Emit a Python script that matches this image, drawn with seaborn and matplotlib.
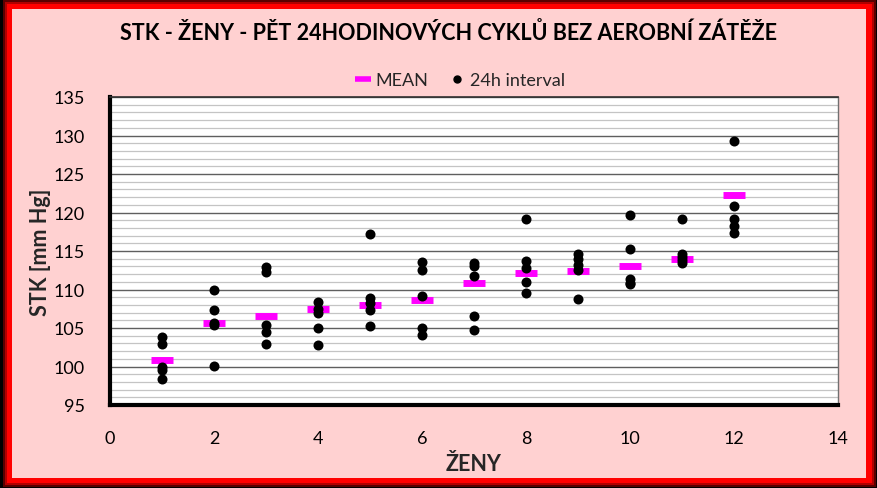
import numpy as np
import pandas as pd
import matplotlib
matplotlib.use("Agg")
import matplotlib.pyplot as plt
from matplotlib.patches import Rectangle
from matplotlib.lines import Line2D
import seaborn as sns

# ---------------- data ----------------
women = [1, 2, 3, 4, 5, 6, 7, 8, 9, 10, 11, 12]
w1 = [103.8, 102.9, 100.0, 99.6, 98.4]
w2 = [109.9, 107.3, 105.7, 105.4, 100.1]
w3 = [112.9, 112.3, 105.4, 104.5, 102.9]
w4 = [108.4, 107.5, 107.0, 105.0, 102.8]
w5 = [117.2, 108.9, 108.2, 107.3, 105.3]
w6 = [113.6, 112.5, 109.1, 105.0, 104.1]
w7 = [113.4, 113.1, 111.8, 106.5, 104.7]
w8 = [119.2, 113.7, 112.8, 111.0, 109.6]
w9 = [114.6, 114.0, 113.2, 112.5, 108.8]
w10 = [119.7, 115.2, 111.4, 110.9, 110.7]
w11 = [119.2, 114.6, 114.2, 113.8, 113.5]
w12 = [129.3, 120.8, 119.2, 118.2, 117.3]
means = [100.8, 105.7, 106.6, 107.5, 108.0, 108.7, 110.8, 112.1, 112.4, 113.1, 113.9, 122.3]
x_ticks = [0, 2, 4, 6, 8, 10, 12, 14]
y_ticks = [95, 100, 105, 110, 115, 120, 125, 130, 135]

title = "STK - ŽENY - PĚT 24HODINOVÝCH CYKLŮ BEZ AEROBNÍ ZÁTĚŽE"
xlabel = "ŽENY"
ylabel = "STK [mm Hg]"

per_woman = [w1, w2, w3, w4, w5, w6, w7, w8, w9, w10, w11, w12]
pts = pd.DataFrame({
    "zena": np.repeat(women, [len(v) for v in per_woman]),
    "stk": np.concatenate(per_woman),
})
mean_df = pd.DataFrame({"zena": women, "stk": means})

# ---------------- figure ----------------
sns.set_theme(style="white")
plt.rcParams["font.family"] = ["Lato", "DejaVu Sans"]

W, H = 878, 489
fig = plt.figure(figsize=(W / 100, H / 100), dpi=100, facecolor="black")

def px_rect(x0, y0, x1, y1, **kw):
    r = Rectangle((x0 / W, 1 - y1 / H), (x1 - x0) / W, (y1 - y0) / H,
                  transform=fig.transFigure, **kw)
    fig.patches.append(r)

# glow / red frame / pink chart area
px_rect(3, 1, 876, 488, facecolor="#5a0000", edgecolor="none", zorder=-10)
px_rect(5, 3, 874, 486, facecolor="#b00000", edgecolor="none", zorder=-9)
px_rect(7, 5, 872, 484, facecolor="#ff0000", edgecolor="none", zorder=-8)
px_rect(12, 10, 866, 479, facecolor="#ffd1d1", edgecolor="none", zorder=-7)

ax = fig.add_axes([110 / W, 1 - 406 / H, (838 - 110) / W, (406 - 98) / H])
ax.set_zorder(5)
ax.set_facecolor("white")

sns.scatterplot(data=mean_df, x="zena", y="stk", ax=ax, marker="_",
                s=260, linewidth=5, color="#ff00ff", zorder=3, legend=False)
sns.scatterplot(data=pts, x="zena", y="stk", ax=ax, marker="o",
                s=52, color="black", edgecolor="black", linewidth=0,
                zorder=4, legend=False)

ax.set_xlim(0, 14)
ax.set_ylim(95, 135)
ax.set_xticks(x_ticks)
ax.set_yticks(y_ticks)
ax.set_yticks(np.arange(95, 136, 1), minor=True)
ax.grid(which="minor", axis="y", color="#c4c4c4", linewidth=0.9, zorder=0)
ax.grid(which="major", axis="y", color="#5f5f5f", linewidth=1.0, zorder=1)
ax.grid(which="major", axis="x", visible=False)
ax.set_axisbelow(True)
ax.tick_params(axis="both", which="both", length=0, labelsize=13,
               labelcolor="black")
ax.tick_params(axis="x", pad=18)
ax.tick_params(axis="y", pad=18)

for side in ["left", "bottom"]:
    ax.spines[side].set_color("black")
    ax.spines[side].set_linewidth(3)
ax.spines["top"].set_color("#303030")
ax.spines["top"].set_linewidth(1.2)
ax.spines["right"].set_color("#707070")
ax.spines["right"].set_linewidth(1.0)

ax.set_xlabel(xlabel, fontsize=15.5, fontweight="bold", labelpad=5)
ax.set_ylabel(ylabel, fontsize=15.5, fontweight="bold", labelpad=2)

fig.text(449 / W, 1 - 33 / H, title, ha="center", va="center",
         fontsize=15.5, fontweight="bold", color="black")

handles = [
    Line2D([], [], color="#ff00ff", marker="_", linestyle="none",
           markersize=12, markeredgewidth=4),
    Line2D([], [], color="black", marker="o", linestyle="none",
           markersize=5),
]
fig.legend(handles, ["MEAN", "24h interval"], loc="center",
           bbox_to_anchor=(460 / W, 1 - 81 / H), ncol=2, frameon=False,
           fontsize=13, handlelength=0.8, handletextpad=0.3,
           columnspacing=1.2)

fig.savefig("out.png", dpi=100, facecolor=fig.get_facecolor())
